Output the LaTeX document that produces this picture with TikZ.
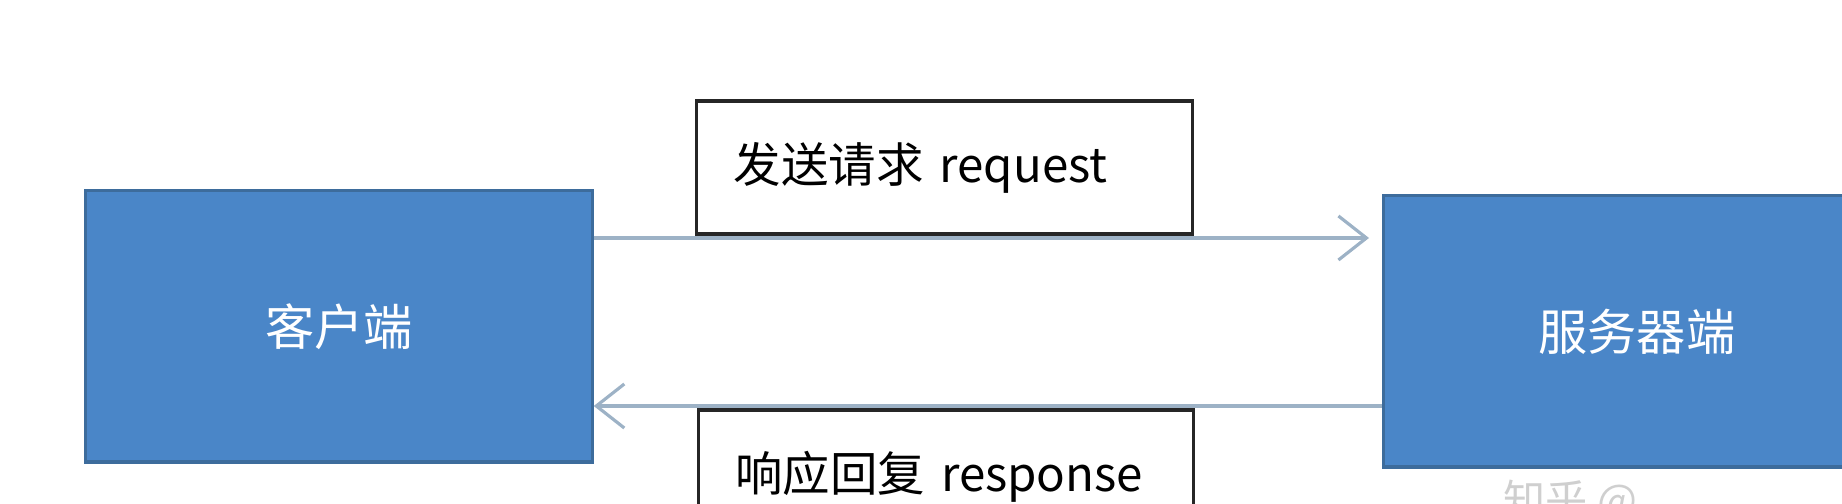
\documentclass[tikz,border=0pt]{standalone}
\usepackage{fontspec}
\setmainfont{Noto Sans CJK SC}
\usetikzlibrary{positioning,arrows.meta}
\definecolor{boxblue}{HTML}{4A86C8}
\definecolor{boxedge}{HTML}{3D6C9C}
\definecolor{linegray}{HTML}{9DB2C6}
\definecolor{markgray}{HTML}{CFCFCF}

\begin{document}
\begin{tikzpicture}[x=0.01cm,y=-0.01cm,node distance=7.88cm]
    \useasboundingbox (0,0) rectangle (1842,504);
    \tikzset{
      endbox/.style={shape=rectangle, fill=boxblue, draw=boxedge, line width=0.9pt,
        minimum width=5.06cm, minimum height=2.71cm, text=white,
        font=\fontsize{14pt}{17pt}\selectfont},
      msgbox/.style={shape=rectangle, fill=white, draw=black!85, line width=0.9pt,
        text width=4.21cm, inner xsep=0.37cm, minimum height=1.33cm, align=left,
        font=\fontsize{13.5pt}{16pt}\selectfont},
      msgline/.style={draw=linegray, line width=0.9pt,
        -{Straight Barb[length=0.28cm,width=0.44cm,line width=0.9pt]}}
    }
    \node[endbox] (client) at (339,326.5) {客户端};
    \node[endbox, right = of client, yshift=-0.05cm] (server) {服务器端};
    \node[msgbox] (req) at (944.5,167.5) {发送请求 request};
    \node[msgbox] (resp) at (946,476.5) {响应回复 response};
    \coordinate (reqend) at (1369,238);
    \coordinate (respy) at (0,406);
    %
    \draw[msgline] (client.east |- reqend) -- (reqend);
    \draw[msgline] (server.west |- respy) -- (client.east |- respy);
    %
    \node[anchor=north west, text=markgray, font=\fontsize{12pt}{14pt}\selectfont, inner sep=0pt] (mark) at (1503,479) {知乎 @};
\end{tikzpicture}
\end{document}
